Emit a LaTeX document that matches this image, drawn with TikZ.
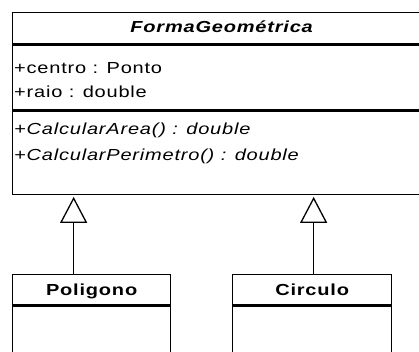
\documentclass[tikz,border=0pt]{standalone}
\usepackage{fontspec}
\setmainfont{Liberation Sans}[FakeStretch=1.25,LetterSpace=5]
\usetikzlibrary{arrows.meta, positioning}
\tikzset{
  compart/.style={rectangle,draw,line width=1.3pt,inner sep=0pt,anchor=north west},
  member/.style={anchor=base west,inner sep=0pt,font=\fontsize{16}{18}\selectfont},
  classname/.style={anchor=base,inner sep=0pt,font=\fontsize{16}{18}\selectfont\bfseries},
  inherit/.style={-{Triangle[open,length=26pt,width=27pt,line width=1.3pt]},line width=1.3pt,shorten >=2pt}
}

\begin{document}
\begin{tikzpicture}[x=1pt,y=1pt]
\useasboundingbox (0,0) rectangle (419,352);
\clip (0,0) rectangle (419,352);
\fill[white] (0,0) rectangle (419,352);
% superclass
\node[compart,minimum width=418pt,minimum height=31pt] (fhead) at (12,340) {};
\node[compart,minimum width=418pt,minimum height=65pt,below=0pt of fhead] (fattr) {};
\node[compart,minimum width=418pt,minimum height=83pt,below=0pt of fattr] (fmeth) {};
\node[classname] (ftitle) at ([yshift=-21pt]fhead.north) {\itshape FormaGeométrica};
\node[member] (centro) at ([xshift=2pt,yshift=-29pt]fattr.north west) {+centro : Ponto};
\node[member] (raio) at ([yshift=-24pt]centro.base west) {+raio : double};
\node[member] (area) at ([xshift=2pt,yshift=-24pt]fmeth.north west) {\itshape +CalcularArea() : double};
\node[member] (perim) at ([yshift=-26pt]area.base west) {\itshape +CalcularPerimetro() : double};
% subclasses
\node[compart,minimum width=158pt,minimum height=30pt] (phead) at (12,78) {};
\node[compart,minimum width=158pt,minimum height=70pt,below=0pt of phead] (pbody) {};
\node[classname] (ptitle) at ([yshift=-22pt]phead.north) {Poligono};
\node[compart,minimum width=159pt,minimum height=30pt] (chead) at (232,78) {};
\node[compart,minimum width=159pt,minimum height=70pt,below=0pt of chead] (cbody) {};
\node[classname] (ctitle) at ([yshift=-22pt]chead.north) {Circulo};
% generalisation
\draw[inherit] ([xshift=-18pt]phead.north) -- ([xshift=-18pt]phead.north |- fmeth.south);
\draw[inherit] ([xshift=1.5pt]chead.north) -- ([xshift=1.5pt]chead.north |- fmeth.south);
\end{tikzpicture}
\end{document}
